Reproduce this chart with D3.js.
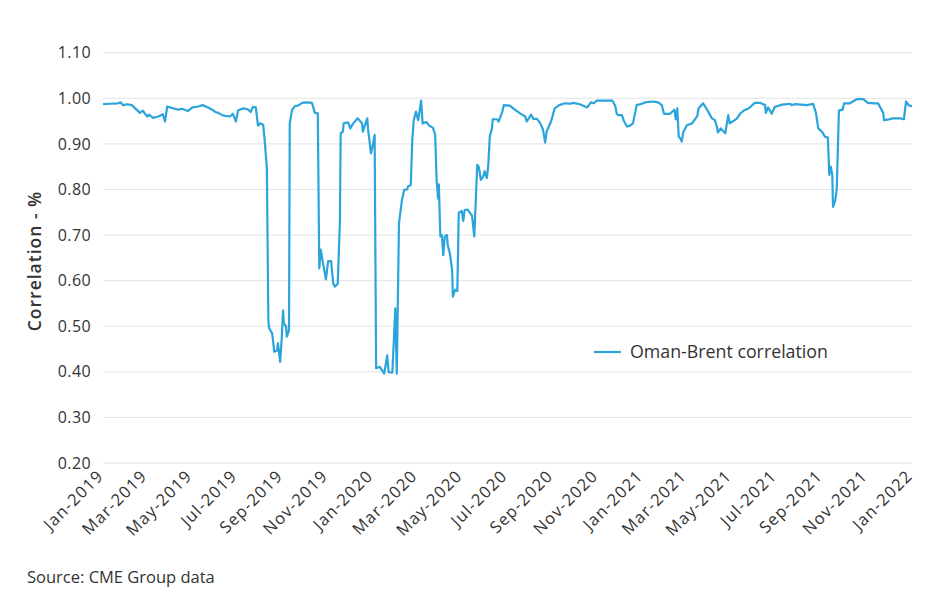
<!DOCTYPE html>
<html>
<head>
<meta charset="utf-8">
<script src="https://cdn.jsdelivr.net/npm/d3@7"></script>
<style>
  html, body { margin: 0; padding: 0; background: #fff; }
  svg { display: block; }
  text { font-family: "Open Sans", sans-serif; fill: #333; }
</style>
</head>
<body>
<svg id="chart" width="940" height="600"></svg>
<script>
const seriesName = "Oman-Brent correlation";
const yTickValues = [0.2, 0.3, 0.4, 0.5, 0.6, 0.7, 0.8, 0.9, 1.0, 1.1];
const xTickDates = ["2019-01-01","2019-03-01","2019-05-01","2019-07-01","2019-09-01","2019-11-01",
  "2020-01-01","2020-03-01","2020-05-01","2020-07-01","2020-09-01","2020-11-01",
  "2021-01-01","2021-03-01","2021-05-01","2021-07-01","2021-09-01","2021-11-01","2022-01-01"];
const dates = [
"2019-01-01","2019-01-10","2019-01-21","2019-01-25","2019-01-28","2019-02-03","2019-02-09","2019-02-13","2019-02-20","2019-02-24",
"2019-02-27","2019-03-02","2019-03-04","2019-03-10","2019-03-17","2019-03-23","2019-03-26","2019-03-29","2019-04-04","2019-04-13",
"2019-04-18","2019-04-26","2019-05-02","2019-05-10","2019-05-16","2019-05-22","2019-05-29","2019-06-02","2019-06-06","2019-06-13",
"2019-06-22","2019-06-26","2019-06-30","2019-07-03","2019-07-10","2019-07-16","2019-07-20","2019-07-23","2019-07-27","2019-07-30",
"2019-08-02","2019-08-06","2019-08-08","2019-08-11","2019-08-13","2019-08-14","2019-08-18","2019-08-19","2019-08-21","2019-08-25",
"2019-08-26","2019-08-29","2019-08-31","2019-09-02","2019-09-03","2019-09-06","2019-09-07","2019-09-10","2019-09-11","2019-09-14",
"2019-09-18","2019-09-22","2019-09-28","2019-10-04","2019-10-11","2019-10-12","2019-10-15","2019-10-19","2019-10-21","2019-10-23",
"2019-10-26","2019-10-30","2019-11-02","2019-11-06","2019-11-09","2019-11-11","2019-11-15","2019-11-18","2019-11-19","2019-11-22",
"2019-11-23","2019-11-29","2019-12-02","2019-12-06","2019-12-12","2019-12-18","2019-12-19","2019-12-25","2019-12-26","2019-12-30",
"2020-01-02","2020-01-04","2020-01-06","2020-01-11","2020-01-17","2020-01-21","2020-01-23","2020-01-28","2020-02-01","2020-02-03",
"2020-02-06","2020-02-10","2020-02-13","2020-02-17","2020-02-18","2020-02-22","2020-02-24","2020-02-26","2020-02-29","2020-03-03",
"2020-03-07","2020-03-09","2020-03-14","2020-03-18","2020-03-23","2020-03-26","2020-03-28","2020-03-30","2020-03-31","2020-04-02",
"2020-04-04","2020-04-06","2020-04-08","2020-04-11","2020-04-12","2020-04-15","2020-04-18","2020-04-19","2020-04-22","2020-04-25",
"2020-04-27","2020-05-01","2020-05-03","2020-05-05","2020-05-09","2020-05-15","2020-05-18","2020-05-22","2020-05-24","2020-05-27",
"2020-05-30","2020-06-01","2020-06-04","2020-06-06","2020-06-08","2020-06-11","2020-06-12","2020-06-18","2020-06-20","2020-06-25",
"2020-06-27","2020-07-05","2020-07-12","2020-07-19","2020-07-26","2020-07-28","2020-08-03","2020-08-06","2020-08-11","2020-08-15",
"2020-08-19","2020-08-22","2020-08-24","2020-08-30","2020-09-04","2020-09-10","2020-09-18","2020-09-25","2020-09-29","2020-10-08",
"2020-10-18","2020-10-23","2020-10-27","2020-10-31","2020-11-14","2020-11-21","2020-11-25","2020-11-27","2020-11-29","2020-12-04",
"2020-12-07","2020-12-11","2020-12-15","2020-12-19","2020-12-24","2020-12-31","2021-01-04","2021-01-15","2021-01-22","2021-01-27",
"2021-01-30","2021-02-07","2021-02-13","2021-02-15","2021-02-17","2021-02-19","2021-02-22","2021-02-23","2021-02-25","2021-03-02",
"2021-03-09","2021-03-16","2021-03-18","2021-03-24","2021-03-29","2021-04-05","2021-04-09","2021-04-12","2021-04-13","2021-04-17",
"2021-04-23","2021-04-27","2021-04-29","2021-05-03","2021-05-09","2021-05-13","2021-05-18","2021-05-25","2021-06-02","2021-06-09",
"2021-06-16","2021-06-17","2021-06-20","2021-06-25","2021-06-29","2021-07-09","2021-07-20","2021-07-22","2021-07-26","2021-08-12",
"2021-08-20","2021-08-24","2021-08-27","2021-09-01","2021-09-05","2021-09-09","2021-09-11","2021-09-13","2021-09-15","2021-09-16",
"2021-09-19","2021-09-21","2021-09-24","2021-09-29","2021-10-01","2021-10-09","2021-10-18","2021-10-27","2021-11-02","2021-11-12",
"2021-11-16","2021-11-23","2021-11-24","2021-11-29","2021-12-06","2021-12-16","2021-12-21","2021-12-24","2021-12-28","2022-01-01"
];
const correlation = [
0.987,0.988,0.989,0.991,0.985,0.987,0.985,0.979,0.968,0.973,
0.966,0.960,0.964,0.957,0.960,0.965,0.949,0.982,0.979,0.975,
0.977,0.972,0.980,0.982,0.985,0.981,0.975,0.970,0.968,0.962,
0.960,0.966,0.949,0.973,0.978,0.976,0.970,0.981,0.980,0.940,
0.945,0.942,0.909,0.847,0.514,0.496,0.485,0.474,0.444,0.447,
0.463,0.422,0.470,0.535,0.506,0.500,0.477,0.491,0.945,0.974,
0.983,0.984,0.990,0.991,0.990,0.985,0.968,0.967,0.627,0.668,
0.639,0.603,0.643,0.643,0.593,0.587,0.593,0.733,0.923,0.927,
0.945,0.947,0.934,0.945,0.956,0.945,0.927,0.956,0.934,0.879,
0.901,0.920,0.408,0.411,0.396,0.436,0.399,0.398,0.539,0.396,
0.726,0.777,0.799,0.800,0.806,0.810,0.909,0.952,0.971,0.952,
0.995,0.945,0.948,0.940,0.935,0.920,0.820,0.780,0.811,0.697,
0.700,0.656,0.697,0.700,0.678,0.659,0.623,0.565,0.580,0.577,
0.749,0.753,0.731,0.755,0.756,0.742,0.697,0.854,0.850,0.821,
0.828,0.840,0.825,0.854,0.916,0.934,0.954,0.954,0.949,0.971,
0.985,0.984,0.975,0.967,0.960,0.949,0.964,0.955,0.955,0.946,
0.932,0.903,0.927,0.949,0.978,0.985,0.989,0.988,0.990,0.987,
0.980,0.991,0.989,0.995,0.995,0.995,0.983,0.966,0.963,0.963,
0.949,0.938,0.940,0.945,0.985,0.988,0.991,0.993,0.991,0.985,
0.966,0.966,0.975,0.954,0.978,0.916,0.910,0.905,0.925,0.941,
0.945,0.961,0.978,0.989,0.976,0.956,0.952,0.936,0.925,0.934,
0.923,0.963,0.945,0.949,0.956,0.966,0.973,0.978,0.990,0.990,
0.985,0.968,0.980,0.966,0.981,0.986,0.988,0.985,0.987,0.985,
0.988,0.967,0.934,0.927,0.916,0.914,0.832,0.850,0.832,0.762,
0.776,0.800,0.973,0.975,0.989,0.989,0.998,0.998,0.990,0.989,
0.989,0.968,0.952,0.953,0.956,0.956,0.954,0.993,0.984,0.983
];

const parse = d3.utcParse("%Y-%m-%d");
const data = dates.map((d, i) => ({ date: parse(d), value: correlation[i] }));

const svg = d3.select("#chart");
const x = d3.scaleUtc().domain([parse("2019-01-01"), parse("2022-01-01")]).range([103, 912]);
const y = d3.scaleLinear().domain([0.2, 1.1]).range([463, 52.7]);

// gridlines
svg.append("g").selectAll("line").data(yTickValues).join("line")
  .attr("x1", 103).attr("x2", 912)
  .attr("y1", d => y(d)).attr("y2", d => y(d))
  .attr("stroke", "#e3e3e3").attr("stroke-width", 1);

// y axis labels
const yAxis = d3.axisLeft(y).tickValues(yTickValues).tickFormat(d3.format(".2f")).tickSize(0).tickPadding(0);
const yg = svg.append("g").attr("transform", "translate(91,0)").call(yAxis);
yg.select(".domain").remove();
yg.selectAll("text").attr("font-size", 16).attr("letter-spacing", 0.4)
  .attr("fill", "#333").attr("font-family", "'Open Sans', sans-serif");

// x axis labels
const fmt = d3.utcFormat("%b-%Y");
const xAxis = d3.axisBottom(x).tickValues(xTickDates.map(parse)).tickFormat(fmt).tickSize(0).tickPadding(0);
const xg = svg.append("g").attr("transform", "translate(0,463)").call(xAxis);
xg.select(".domain").remove();
xg.selectAll("text")
  .attr("font-size", 16.5).attr("letter-spacing", 1.2)
  .attr("fill", "#333").attr("font-family", "'Open Sans', sans-serif")
  .attr("text-anchor", "end")
  .attr("dy", null)
  .attr("transform", "translate(1,14) rotate(-45)");

// y axis title
svg.append("text")
  .attr("transform", "translate(41,261) rotate(-90)")
  .attr("text-anchor", "middle")
  .attr("font-size", 17.5).attr("font-weight", 600).attr("letter-spacing", 1)
  .text("Correlation - %");

// line
const line = d3.line().x(d => x(d.date)).y(d => y(d.value));
svg.append("path").datum(data)
  .attr("fill", "none").attr("stroke", "#2aa4db").attr("stroke-width", 2.2)
  .attr("stroke-linejoin", "round")
  .attr("d", line);

// legend
svg.append("line").attr("x1", 594).attr("x2", 621).attr("y1", 352).attr("y2", 352)
  .attr("stroke", "#2aa4db").attr("stroke-width", 2.2);
svg.append("text").attr("x", 630).attr("y", 358).attr("font-size", 17.8).text(seriesName);

// source
svg.append("text").attr("x", 27).attr("y", 583).attr("font-size", 16.5).text("Source: CME Group data");
</script>
</body>
</html>
